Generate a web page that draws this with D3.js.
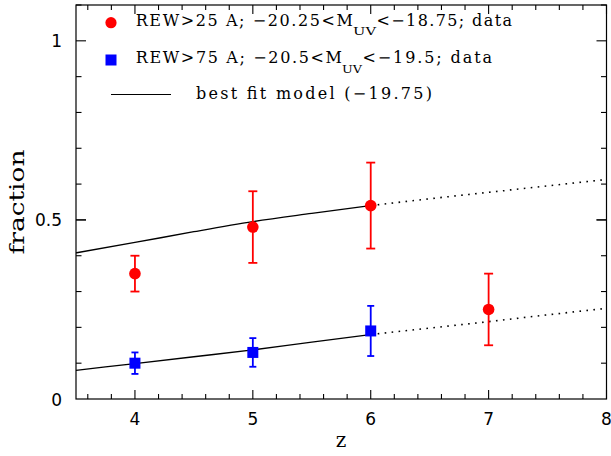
<!DOCTYPE html>
<html><head><meta charset="utf-8">
<script src="https://cdn.jsdelivr.net/npm/d3@7"></script>
<style>body{margin:0;background:#fff}svg{display:block}</style>
</head><body>
<svg id="c" width="611" height="456"></svg>
<script>
// data
const redZ = [4, 5, 6, 7];
const redFrac = [0.35, 0.48, 0.54, 0.25];
const redErr = [0.05, 0.10, 0.12, 0.10];
const blueZ = [4, 5, 6];
const blueFrac = [0.10, 0.13, 0.19];
const blueErr = [0.03, 0.04, 0.07];
const modelZ = [3.5, 4, 4.5, 5, 5.5, 6, 6.5, 7, 7.5, 8];
const modelUpper = [0.408, 0.437, 0.467, 0.495, 0.518, 0.540, 0.559, 0.577, 0.595, 0.613];
const modelLower = [0.080, 0.099, 0.118, 0.137, 0.159, 0.180, 0.198, 0.216, 0.235, 0.253];
const fitEnd = 6;
const xTicks = [4, 5, 6, 7, 8];
const yTicks = [0, 0.5, 1];
const yTickLabels = ["0", "0.5", "1"];

const svg = d3.select("#c");
const L = 76, R = 606.5, T = 5, B = 399;
const x = d3.scaleLinear().domain([3.5, 8]).range([L, R]);
const y = d3.scaleLinear().domain([0, 1.1]).range([B, T]);

const g = svg.append("g");
// frame
g.append("rect").attr("x", L).attr("y", T).attr("width", R - L).attr("height", B - T)
  .attr("fill", "none").attr("stroke", "#000").attr("stroke-width", 1.2);

// ticks (inward on all four sides)
const xMinor = d3.range(3.6, 8.0001, 0.2).map(v => +v.toFixed(2));
const yMinor = d3.range(0.1, 1.1001, 0.1).map(v => +v.toFixed(2));
const isMajX = v => Math.abs(v - Math.round(v)) < 1e-6;
const isMajY = v => Math.abs(v * 2 - Math.round(v * 2)) < 1e-6;
const tk = g.append("g").attr("stroke", "#000").attr("stroke-width", 1.1);
xMinor.forEach(v => {
  const len = isMajX(v) ? 9 : 5;
  const px = x(v);
  tk.append("line").attr("x1", px).attr("x2", px).attr("y1", B).attr("y2", B - len);
  tk.append("line").attr("x1", px).attr("x2", px).attr("y1", T).attr("y2", T + len);
});
yMinor.concat([0.5]).forEach(v => {
  const len = isMajY(v) ? 10 : 5.5;
  const py = y(v);
  tk.append("line").attr("x1", L).attr("x2", L + len).attr("y1", py).attr("y2", py);
  tk.append("line").attr("x1", R).attr("x2", R - len).attr("y1", py).attr("y2", py);
});

// tick labels
const tf = "'DejaVu Sans', sans-serif";
xTicks.forEach(v => {
  g.append("text").attr("x", x(v)).attr("y", 424.5).attr("text-anchor", "middle")
    .attr("font-family", tf).attr("font-size", 17).text(v);
});
yTicks.forEach((v, i) => {
  g.append("text").attr("x", 62).attr("y", y(v) + 6.5).attr("text-anchor", "end")
    .attr("font-family", tf).attr("font-size", 17).text(yTickLabels[i]);
});

// axis titles
const sf = "'DejaVu Serif', serif";
g.append("text").attr("x", 341).attr("y", 447).attr("text-anchor", "middle")
  .attr("font-family", sf).attr("font-size", 20).text("z");
g.append("text").attr("transform", "translate(23.5,202) rotate(-90)").attr("text-anchor", "middle")
  .attr("font-family", sf).attr("font-size", 21).attr("textLength", 105).attr("lengthAdjust", "spacingAndGlyphs")
  .text("fraction");

// model lines
const line = d3.line().x(d => x(d[0])).y(d => y(d[1])).curve(d3.curveMonotoneX);
[modelUpper, modelLower].forEach(m => {
  const pts = modelZ.map((z, i) => [z, m[i]]);
  g.append("path").attr("d", line(pts.filter(p => p[0] <= fitEnd)))
    .attr("fill", "none").attr("stroke", "#000").attr("stroke-width", 1.3);
  g.append("path").attr("d", line(pts.filter(p => p[0] >= fitEnd)))
    .attr("fill", "none").attr("stroke", "#000").attr("stroke-width", 1.6)
    .attr("stroke-dasharray", "1.6,5.4");
});

// error bars + markers
function errbars(zs, fs, es, color, cap) {
  zs.forEach((z, i) => {
    const px = x(z), y1 = y(fs[i] + es[i]), y2 = y(fs[i] - es[i]);
    g.append("line").attr("x1", px).attr("x2", px).attr("y1", y1).attr("y2", y2)
      .attr("stroke", color).attr("stroke-width", 1.8);
    [y1, y2].forEach(yy => g.append("line").attr("x1", px - cap).attr("x2", px + cap)
      .attr("y1", yy).attr("y2", yy).attr("stroke", color).attr("stroke-width", 1.8));
  });
}
errbars(redZ, redFrac, redErr, "#ff0000", 4.5);
errbars(blueZ, blueFrac, blueErr, "#0000ff", 3.5);
redZ.forEach((z, i) => g.append("circle").attr("cx", x(z)).attr("cy", y(redFrac[i])).attr("r", 5.8).attr("fill", "#ff0000"));
blueZ.forEach((z, i) => g.append("rect").attr("x", x(z) - 5.5).attr("y", y(blueFrac[i]) - 5.5)
  .attr("width", 11).attr("height", 11).attr("fill", "#0000ff"));

// legend
const lg = svg.append("g").attr("font-family", sf).attr("fill", "#000");
lg.append("circle").attr("cx", 111).attr("cy", 22.7).attr("r", 5.6).attr("fill", "#ff0000");
lg.append("rect").attr("x", 105.5).attr("y", 54.5).attr("width", 11).attr("height", 11).attr("fill", "#0000ff");
lg.append("line").attr("x1", 111).attr("x2", 171).attr("y1", 94.5).attr("y2", 94.5).attr("stroke", "#000").attr("stroke-width", 1.2);

function piece(txt, x0, x1, yb, fs, adj) {
  lg.append("text").attr("x", x0).attr("y", yb).attr("font-size", fs)
    .attr("textLength", x1 - x0).attr("lengthAdjust", adj || "spacing").text(txt);
}
// row 1
piece("REW>25 A; \u221220.25<M", 135.7, 353, 25.5, 16);
piece("UV", 353, 376, 35.3, 11.4, "spacingAndGlyphs");
piece("<\u221218.75; data", 376.5, 512, 25.5, 16);
// row 2
piece("REW>75 A; \u221220.5<M", 135.7, 342, 63, 16);
piece("UV", 342, 362, 72.8, 11.4, "spacingAndGlyphs");
piece("<\u221219.5; data", 362.5, 492, 63, 16);
// row 3
piece("best fit model (\u221219.75)", 196, 432, 99, 16);
</script>
</body></html>
